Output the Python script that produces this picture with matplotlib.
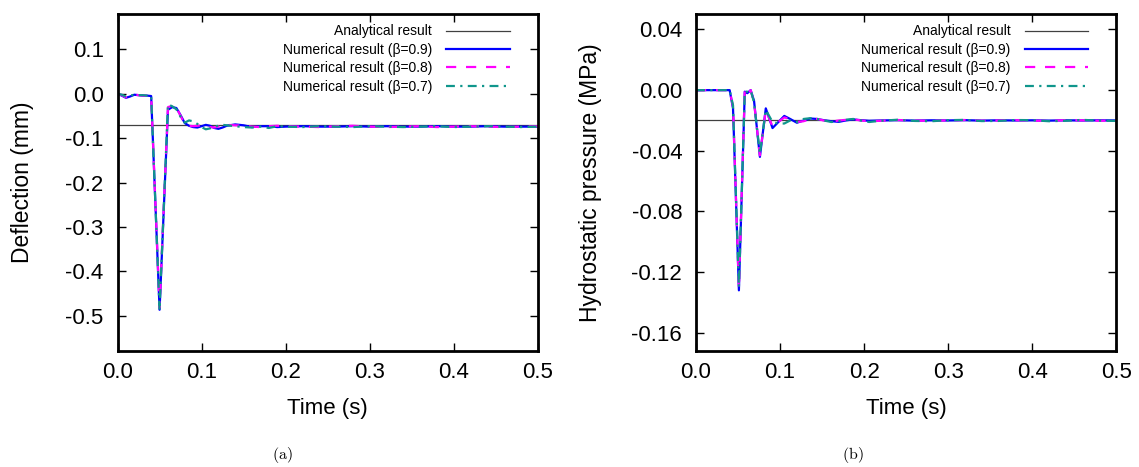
import numpy as np
import matplotlib
matplotlib.use('Agg')
import matplotlib.pyplot as plt

plt.rcParams['font.family'] = ['Liberation Sans', 'DejaVu Sans']
plt.rcParams['axes.unicode_minus'] = False
plt.rcParams['mathtext.fontset'] = 'cm'

# deflection history (mm)
t_a = [0.000, 0.005, 0.010, 0.015, 0.020, 0.025, 0.030, 0.035, 0.040, 0.050,
       0.060, 0.065, 0.070, 0.075, 0.080, 0.085, 0.090, 0.095, 0.100, 0.105,
       0.110, 0.115, 0.120, 0.125, 0.130, 0.140, 0.150, 0.160, 0.170, 0.180,
       0.190, 0.200, 0.220, 0.240, 0.260, 0.280, 0.300, 0.320, 0.340, 0.360,
       0.380, 0.400, 0.420, 0.440, 0.460, 0.480, 0.500]
defl_b09 = [0.000, -0.004, -0.009, -0.006, -0.002, -0.003, -0.004, -0.004, -0.005, -0.487,
            -0.036, -0.030, -0.032, -0.048, -0.066, -0.072, -0.075, -0.076, -0.073, -0.070,
            -0.072, -0.077, -0.079, -0.076, -0.072, -0.069, -0.071, -0.075, -0.073, -0.073,
            -0.075, -0.074, -0.073, -0.074, -0.074, -0.073, -0.074, -0.073, -0.074, -0.074,
            -0.073, -0.074, -0.074, -0.073, -0.074, -0.074, -0.074]
defl_b08 = [0.000, -0.003, -0.008, -0.005, -0.002, -0.003, -0.004, -0.004, -0.005, -0.482,
            -0.030, -0.027, -0.030, -0.050, -0.068, -0.072, -0.073, -0.072, -0.071, -0.073,
            -0.075, -0.076, -0.074, -0.071, -0.070, -0.071, -0.072, -0.074, -0.075, -0.073,
            -0.072, -0.073, -0.074, -0.075, -0.073, -0.072, -0.074, -0.075, -0.074, -0.073,
            -0.075, -0.074, -0.073, -0.074, -0.075, -0.074, -0.073]
defl_b07 = [0.000, -0.002, -0.006, -0.004, -0.002, -0.003, -0.003, -0.004, -0.004, -0.488,
            -0.024, -0.028, -0.035, -0.052, -0.065, -0.060, -0.062, -0.068, -0.075, -0.080,
            -0.078, -0.074, -0.072, -0.070, -0.071, -0.073, -0.075, -0.076, -0.074, -0.077,
            -0.073, -0.074, -0.075, -0.073, -0.074, -0.075, -0.073, -0.074, -0.075, -0.074,
            -0.073, -0.075, -0.074, -0.073, -0.074, -0.075, -0.074]
defl_exact = -0.070
defl_ticks = [-0.5, -0.4, -0.3, -0.2, -0.1, 0.0, 0.1]

# hydrostatic pressure history (MPa)
t_b = [0.000, 0.010, 0.020, 0.030, 0.040, 0.044, 0.051, 0.058, 0.061, 0.065,
       0.069, 0.076, 0.083, 0.091, 0.098, 0.105, 0.112, 0.120, 0.128, 0.136,
       0.144, 0.152, 0.161, 0.170, 0.178, 0.187, 0.196, 0.206, 0.220, 0.240,
       0.260, 0.280, 0.300, 0.320, 0.340, 0.360, 0.380, 0.400, 0.420, 0.440,
       0.460, 0.480, 0.500]
pres_b09 = [0.0, 0.0, 0.0, 0.0, 0.0, -0.012, -0.132, -0.001, -0.002, 0.000,
            -0.007, -0.044, -0.012, -0.025, -0.021, -0.017, -0.019, -0.0215, -0.020, -0.0187,
            -0.019, -0.0198, -0.0205, -0.0209, -0.020, -0.0193, -0.0198, -0.0202, -0.020, -0.0198,
            -0.0201, -0.0199, -0.0200, -0.0198, -0.0201, -0.0199, -0.0200, -0.0199, -0.0201, -0.0199,
            -0.0200, -0.0199, -0.0200]
pres_b08 = [0.0, 0.0, 0.0, 0.0, 0.0, -0.011, -0.131, 0.000, -0.003, 0.000,
            -0.008, -0.043, -0.013, -0.024, -0.021, -0.018, -0.019, -0.021, -0.0205, -0.019,
            -0.019, -0.020, -0.0207, -0.020, -0.0196, -0.0192, -0.020, -0.0205, -0.0202, -0.0197,
            -0.020, -0.0203, -0.0199, -0.0197, -0.0202, -0.020, -0.0198, -0.0201, -0.0203, -0.0198,
            -0.0199, -0.0202, -0.0200]
pres_b07 = [0.0, 0.0, 0.0, 0.0, 0.0, -0.010, -0.130, -0.001, -0.001, 0.000,
            -0.008, -0.042, -0.013, -0.021, -0.022, -0.022, -0.020, -0.021, -0.019, -0.0185,
            -0.019, -0.020, -0.021, -0.0205, -0.0195, -0.019, -0.020, -0.021, -0.0202, -0.0195,
            -0.0203, -0.0205, -0.0198, -0.0196, -0.0204, -0.0203, -0.0197, -0.0198, -0.0205, -0.0202,
            -0.0196, -0.0201, -0.0203]
pres_exact = -0.020
pres_ticks = [-0.16, -0.12, -0.08, -0.04, 0.00, 0.04]

time_ticks = [0.0, 0.1, 0.2, 0.3, 0.4, 0.5]

labels = ['Analytical result',
          'Numerical result (\u03b2=0.9)',
          'Numerical result (\u03b2=0.8)',
          'Numerical result (\u03b2=0.7)']


def draw_panel(ax, t, series, exact, ylim, yticks, yfmt, ylabel, ylabel_x):
    ax.plot([0.0, 0.5], [exact, exact], color='0.25', lw=0.9, label=labels[0])
    ax.plot(t, series[0], color='#0000ff', lw=1.6, label=labels[1])
    ax.plot(t, series[1], color='#ff00ff', lw=1.6, dashes=(4.6, 4.4), label=labels[2])
    ax.plot(t, series[2], color='#10968c', lw=1.6, dashes=(4.0, 2.4, 1.0, 2.4), label=labels[3])

    ax.set_xlim(0.0, 0.5)
    ax.set_ylim(*ylim)
    ax.set_xticks(time_ticks)
    ax.set_yticks(yticks)
    ax.set_xticklabels(['%.1f' % v for v in time_ticks])
    ax.set_yticklabels([yfmt % v for v in yticks])
    ax.tick_params(direction='in', top=True, right=True, length=6, width=1,
                   labelsize=16)
    ax.tick_params(axis='x', pad=8)
    ax.tick_params(axis='y', pad=10)
    for spine in ax.spines.values():
        spine.set_linewidth(2)

    ax.set_xlabel('Time (s)', fontsize=16)
    ax.set_ylabel(ylabel, fontsize=16.5)
    ax.xaxis.set_label_coords(0.5, -0.14)
    ax.yaxis.set_label_coords(ylabel_x, 0.5)

    ax.legend(loc='upper right', bbox_to_anchor=(0.934, 0.969), frameon=False,
              fontsize=10, markerfirst=False, handlelength=4.6, handletextpad=1.0,
              labelspacing=0.32, borderpad=0, borderaxespad=0)


fig = plt.figure(figsize=(11.39, 4.67), dpi=100)
ax_a = fig.add_axes([0.1032, 0.2484, 0.3689, 0.7216])
ax_b = fig.add_axes([0.6111, 0.2484, 0.3689, 0.7216])

draw_panel(ax_a, t_a, [defl_b09, defl_b08, defl_b07], defl_exact,
           (-0.58, 0.18), defl_ticks, '%.1f', 'Deflection (mm)', -0.199)
draw_panel(ax_b, t_b, [pres_b09, pres_b08, pres_b07], pres_exact,
           (-0.172, 0.0502), pres_ticks, '%.2f', 'Hydrostatic pressure (MPa)', -0.224)

fig.text(282 / 1139, 1 - 455 / 467, r'$\mathrm{(a)}$', ha='center', va='center', fontsize=11.5)
fig.text(853 / 1139, 1 - 455 / 467, r'$\mathrm{(b)}$', ha='center', va='center', fontsize=11.5)

fig.savefig('out.png', dpi=100)
